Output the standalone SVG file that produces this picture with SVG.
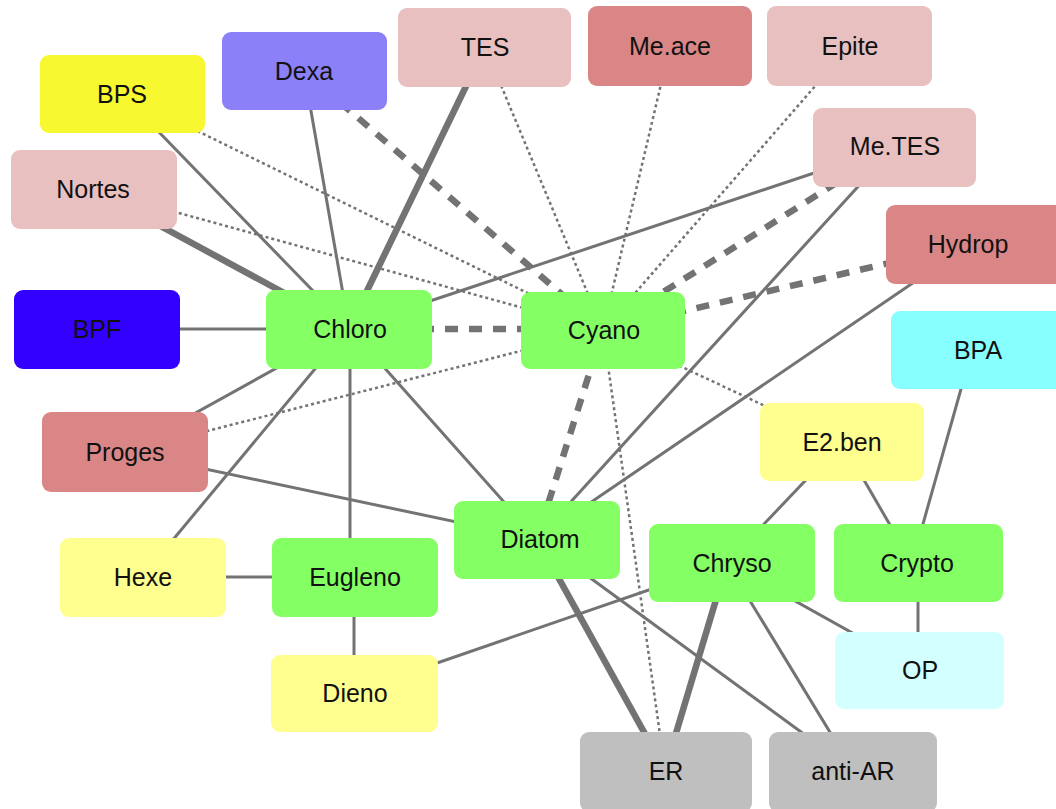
<svg xmlns="http://www.w3.org/2000/svg" width="1056" height="809" viewBox="0 0 1056 809">
<style>
.e{stroke:#737373;stroke-width:3;fill:none}
.t{stroke-width:6.5}
.d{stroke-width:6.5;stroke-dasharray:13 11}
.o{stroke-width:2.5;stroke-dasharray:3 3}
.n rect{rx:9;ry:9}
.n text{font-family:"Liberation Sans",Arial,sans-serif;font-size:25px;fill:#111;text-anchor:middle}
.g rect{fill:#84ff64}
.p rect{fill:#e8c0c0}
.r rect{fill:#da8686}
.y rect{fill:#ffff90}
.gr rect{fill:#bfbfbf}
</style>
<rect width="1056" height="809" fill="#fff"/>
<g id="edges">
<line class="e o" x1="122" y1="94" x2="603" y2="330"/>
<line class="e o" x1="92" y1="189" x2="603" y2="330"/>
<line class="e o" x1="485" y1="47" x2="603" y2="330"/>
<line class="e o" x1="670" y1="46" x2="603" y2="330"/>
<line class="e o" x1="850" y1="46" x2="603" y2="330"/>
<line class="e o" x1="125" y1="452" x2="603" y2="330"/>
<line class="e o" x1="603" y1="330" x2="842" y2="442"/>
<line class="e o" x1="603" y1="330" x2="665" y2="770"/>
<line class="e" x1="122" y1="94" x2="349" y2="328"/>
<line class="e" x1="304" y1="71" x2="349" y2="328"/>
<line class="e" x1="97" y1="329" x2="349" y2="329"/>
<line class="e" x1="349" y1="328" x2="895" y2="146"/>
<line class="e" x1="349" y1="328" x2="125" y2="452"/>
<line class="e" x1="349" y1="328" x2="142" y2="577"/>
<line class="e" x1="350" y1="328" x2="350" y2="577"/>
<line class="e" x1="349" y1="328" x2="537" y2="539"/>
<line class="e" x1="125" y1="452" x2="537" y2="539"/>
<line class="e" x1="142" y1="577" x2="354" y2="577"/>
<line class="e" x1="354" y1="577" x2="354" y2="692"/>
<line class="e" x1="353" y1="692" x2="727" y2="563"/>
<line class="e" x1="895" y1="146" x2="537" y2="539"/>
<line class="e" x1="970" y1="244" x2="537" y2="539"/>
<line class="e" x1="537" y1="539" x2="853" y2="770"/>
<line class="e" x1="727" y1="563" x2="853" y2="770"/>
<line class="e" x1="727" y1="563" x2="917" y2="669"/>
<line class="e" x1="842" y1="442" x2="727" y2="563"/>
<line class="e" x1="842" y1="442" x2="912" y2="563"/>
<line class="e" x1="972" y1="350" x2="912" y2="563"/>
<line class="e" x1="918" y1="563" x2="918" y2="669"/>
<line class="e t" x1="92" y1="189" x2="349" y2="328"/>
<line class="e t" x1="485" y1="47" x2="349" y2="328"/>
<line class="e t" x1="537" y1="539" x2="665" y2="770"/>
<line class="e t" x1="727" y1="563" x2="665" y2="770"/>
<line class="e d" x1="304" y1="71" x2="603" y2="330"/>
<line class="e d" x1="349" y1="329" x2="603" y2="329"/>
<line class="e d" x1="603" y1="330" x2="895" y2="146"/>
<line class="e d" x1="603" y1="330" x2="970" y2="244"/>
<line class="e d" x1="603" y1="330" x2="537" y2="539"/>
</g>
<g id="BPS" class="n"><rect x="40" y="55" width="165" height="78" fill="#f8f830"/><text x="122" y="103">BPS</text></g>
<g id="Dexa" class="n"><rect x="222" y="32" width="165" height="78" fill="#8c80f8"/><text x="304" y="80">Dexa</text></g>
<g id="TES" class="n p"><rect x="398" y="8" width="173" height="79"/><text x="485" y="56">TES</text></g>
<g id="Me.ace" class="n r"><rect x="588" y="6" width="164" height="80"/><text x="670" y="55">Me.ace</text></g>
<g id="Epite" class="n p"><rect x="767" y="6" width="165" height="80"/><text x="850" y="55">Epite</text></g>
<g id="Me.TES" class="n p"><rect x="813" y="108" width="163" height="79"/><text x="895" y="155">Me.TES</text></g>
<g id="Hydrop" class="n r"><rect x="886" y="205" width="180" height="79"/><text x="968" y="253">Hydrop</text></g>
<g id="Nortes" class="n p"><rect x="11" y="150" width="166" height="79"/><text x="93" y="198">Nortes</text></g>
<g id="BPF" class="n"><rect x="14" y="290" width="166" height="79" fill="#3300ff"/><text x="97" y="338">BPF</text></g>
<g id="Chloro" class="n g"><rect x="266" y="290" width="166" height="79"/><text x="350" y="338">Chloro</text></g>
<g id="Cyano" class="n g"><rect x="521" y="292" width="164" height="77"/><text x="604" y="339">Cyano</text></g>
<g id="BPA" class="n"><rect x="891" y="311" width="175" height="78" fill="#88ffff"/><text x="978" y="359">BPA</text></g>
<g id="E2.ben" class="n y"><rect x="760" y="403" width="164" height="78"/><text x="842" y="451">E2.ben</text></g>
<g id="Proges" class="n r"><rect x="42" y="412" width="166" height="80"/><text x="125" y="461">Proges</text></g>
<g id="Diatom" class="n g"><rect x="454" y="501" width="166" height="78"/><text x="540" y="548">Diatom</text></g>
<g id="Chryso" class="n g"><rect x="649" y="524" width="166" height="78"/><text x="732" y="572">Chryso</text></g>
<g id="Crypto" class="n g"><rect x="834" y="524" width="169" height="78"/><text x="917" y="572">Crypto</text></g>
<g id="Hexe" class="n y"><rect x="60" y="538" width="166" height="79"/><text x="143" y="586">Hexe</text></g>
<g id="Eugleno" class="n g"><rect x="272" y="538" width="166" height="79"/><text x="355" y="586">Eugleno</text></g>
<g id="Dieno" class="n y"><rect x="271" y="655" width="167" height="77"/><text x="355" y="702">Dieno</text></g>
<g id="OP" class="n"><rect x="835" y="632" width="169" height="77" fill="#d4ffff"/><text x="920" y="679">OP</text></g>
<g id="ER" class="n gr"><rect x="580" y="732" width="172" height="80"/><text x="666" y="780">ER</text></g>
<g id="anti-AR" class="n gr"><rect x="769" y="732" width="168" height="80"/><text x="853" y="780">anti-AR</text></g>
</svg>
